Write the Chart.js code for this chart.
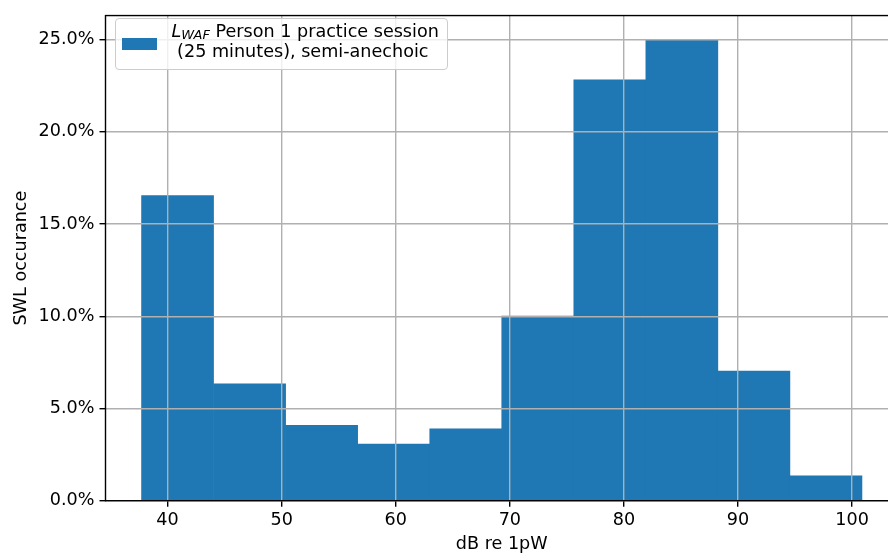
<!DOCTYPE html>
<html>
<head>
<meta charset="utf-8">
<script src="https://cdn.jsdelivr.net/npm/chart.js@4.4.1/dist/chart.umd.min.js"></script>
<style>
  html, body { margin: 0; padding: 0; background: #fff; overflow: hidden; width: 888px; height: 557px; }
  #wrap { position: relative; width: 900px; height: 557px; }
  #legend {
    position: absolute; left: 115px; top: 18px; width: 333px; height: 52px;
    box-sizing: border-box; border: 1px solid #cccccc; border-radius: 4px;
    background: rgba(255,255,255,0.8);
    font-family: 'DejaVu Sans', sans-serif; font-size: 17.6px; color: #000;
  }
  #legend .sw { position: absolute; left: 6px; top: 19px; width: 35px; height: 12px; background: #1f77b4; }
  #legend .txt { position: absolute; left: 55.5px; top: 1.8px; line-height: 20.6px; white-space: pre; }
  #legend sub { font-size: 13px; vertical-align: -2px; line-height: 0; font-style: italic; }
</style>
</head>
<body>
<div id="wrap">
  <canvas id="c" width="900" height="557" style="width:900px;height:557px;display:block"></canvas>
  <div id="legend"><div class="sw"></div><div class="txt"><i>L</i><sub>WAF</sub> Person 1 practice session
 (25 minutes), semi-anechoic</div></div>
</div>
<script>
// Histogram bin edges (dB re 1pW)
const binEdges = [37.72, 44.03, 50.35, 56.66, 62.98, 69.29, 75.60, 81.92, 88.23, 94.55, 100.86];
// SWL occurrence per bin (%)
const occurrence = [16.54, 6.33, 4.08, 3.07, 3.89, 10.01, 22.81, 24.99, 7.03, 1.35];
const xTicks = [40, 50, 60, 70, 80, 90, 100];
const yTicks = [0, 5, 10, 15, 20, 25];
const xLabel = 'dB re 1pW';
const yLabel = 'SWL occurance';

const points = occurrence.map((v, i) => ({ x: (binEdges[i] + binEdges[i + 1]) / 2, y: v }));

const FONT = { family: "'DejaVu Sans', sans-serif", size: 17.6 };

const framePlugin = {
  id: 'frame',
  afterDraw(chart) {
    const { ctx, chartArea: a } = chart;
    ctx.save();
    ctx.strokeStyle = '#000';
    ctx.lineWidth = 1.4;
    ctx.strokeRect(a.left, a.top, a.right - a.left, a.bottom - a.top);
    ctx.restore();
  }
};

new Chart(document.getElementById('c'), {
  type: 'bar',
  data: {
    datasets: [{
      label: 'L_WAF Person 1 practice session (25 minutes), semi-anechoic',
      data: points,
      backgroundColor: '#1f77b4',
      borderWidth: 0,
      barPercentage: 1,
      categoryPercentage: 1,
      grouped: false
    }]
  },
  options: {
    responsive: false,
    animation: false,
    devicePixelRatio: 1,
    layout: { padding: { left: 0, top: 7.5, right: 2, bottom: 0 } },
    plugins: { legend: { display: false }, tooltip: { enabled: false } },
    scales: {
      x: {
        type: 'linear',
        offset: false,
        min: 34.56,
        max: 104.02,
        afterBuildTicks: s => { s.ticks = xTicks.map(v => ({ value: v })); },
        afterFit: s => { s.height = 56.3; },
        border: { display: false },
        grid: { z: 1, offset: false, color: '#b0b0b0', lineWidth: 1.4, tickColor: '#000', tickLength: 6, tickWidth: 1.4 },
        ticks: { z: 1, color: '#000', font: FONT, padding: 3, maxRotation: 0, autoSkip: false },
        title: { display: true, text: xLabel, color: '#000', font: FONT, padding: { top: 0, bottom: 2 } }
      },
      y: {
        type: 'linear',
        min: 0,
        max: 26.3,
        afterBuildTicks: s => { s.ticks = yTicks.map(v => ({ value: v })); },
        afterFit: s => { s.width = 105.5; },
        border: { display: false },
        grid: { z: 1, color: '#b0b0b0', lineWidth: 1.4, tickColor: '#000', tickLength: 6, tickWidth: 1.4 },
        ticks: { z: 1, color: '#000', font: FONT, padding: 5, callback: v => v.toFixed(1) + '%' },
        title: { display: true, text: yLabel, color: '#000', font: FONT, padding: { top: 11, bottom: 0 } }
      }
    }
  },
  plugins: [framePlugin]
});
</script>
</body>
</html>
